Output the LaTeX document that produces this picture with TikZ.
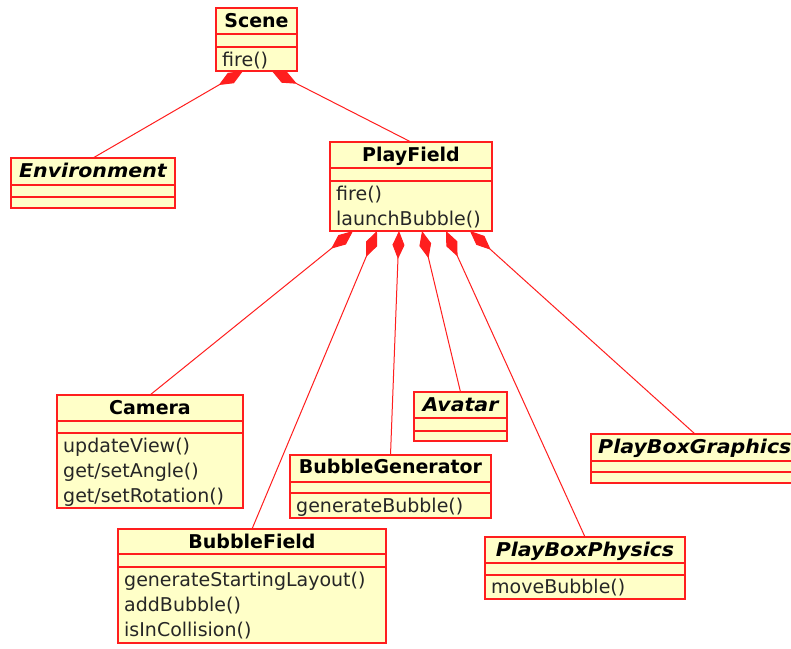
\documentclass[tikz,border=0pt]{standalone}
\usepackage{fontspec}
\usepackage{graphicx}
\setmainfont{DejaVu Sans}[BoldFont={DejaVu Sans Bold},ItalicFont={DejaVu Sans Oblique},BoldItalicFont={DejaVu Sans Bold Oblique}]
\usetikzlibrary{calc,arrows.meta}
\definecolor{umlred}{RGB}{255,30,30}
\definecolor{umlfill}{RGB}{255,255,200}
\newcommand{\umlfont}{\fontsize{19}{25}\selectfont}
\newcommand{\wideit}[1]{\scalebox{1.08}[1]{#1}}
\tikzset{
  cls/.style={draw=umlred, fill=umlfill, line width=1.4pt, inner sep=0pt, outer sep=0pt},
  divline/.style={draw=umlred, line width=1.4pt},
  ttl/.style={font=\umlfont\bfseries, anchor=base, inner sep=0pt},
  attl/.style={font=\umlfont\bfseries\itshape, anchor=base, inner sep=0pt},
  op/.style={font=\umlfont, anchor=base west, inner sep=0pt, text=black!85},
  comp/.style={draw=umlred, line width=1pt, {Diamond[length=28pt,width=12pt]}-},
}
% #1 name, #2 x, #3 y, #4 width, #5 height, #6 title row, #7 attribute row
\newcommand{\umlbox}[7]{%
  \node[cls, minimum width=#4pt, minimum height=#5pt, anchor=north west] (#1) at (#2,#3) {};
  \draw[divline] ($(#1.north west)+(0,#6)$) -- ($(#1.north east)+(0,#6)$);
  \draw[divline] ($(#1.north west)+(0,#6+#7)$) -- ($(#1.north east)+(0,#6+#7)$);
}
\begin{document}
\begin{tikzpicture}[x=1pt,y=-1pt]
\clip (0,0) rectangle (791,648);
\fill[white] (0,0) rectangle (791,648);

% boxes
\umlbox{Scene}{216}{8}{81}{63}{26}{13}
\umlbox{Environment}{11}{158}{164}{50}{27}{12}
\umlbox{PlayField}{330}{142}{162}{89}{26}{13}
\umlbox{Camera}{57}{395}{186}{113}{26}{12}
\umlbox{BubbleField}{118}{529}{268}{114}{25}{13}
\umlbox{Avatar}{414}{392}{93}{49}{26}{13}
\umlbox{BubbleGenerator}{290}{455}{201}{63}{27}{11}
\umlbox{PlayBoxPhysics}{485}{537}{200}{62}{26}{12}
\umlbox{PlayBoxGraphics}{591}{434}{208}{49}{27}{11}

% titles
\node[ttl]  (SceneT) at ($(Scene.north)+(0,19)$) {Scene};
\node[attl] (EnvironmentT) at ($(Environment.north)+(0,19)$) {\wideit{Environment}};
\node[ttl]  (PlayFieldT) at ($(PlayField.north)+(0,19)$) {PlayField};
\node[ttl]  (CameraT) at ($(Camera.north)+(0,19)$) {Camera};
\node[ttl]  (BubbleFieldT) at ($(BubbleField.north)+(0,19)$) {BubbleField};
\node[attl] (AvatarT) at ($(Avatar.north)+(0,19)$) {\wideit{Avatar}};
\node[ttl]  (BubbleGeneratorT) at ($(BubbleGenerator.north)+(0,18)$) {BubbleGenerator};
\node[attl] (PlayBoxPhysicsT) at ($(PlayBoxPhysics.north)+(0,19)$) {\wideit{PlayBoxPhysics}};
\node[attl, anchor=base west] (PlayBoxGraphicsT) at ($(PlayBoxGraphics.north west)+(7,19)$) {\wideit{PlayBoxGraphics}};

% operations
\node[op] (SceneO1) at ($(Scene.north west)+(6,58)$) {fire()};
\node[op] (PlayFieldO1) at ($(PlayField.north west)+(6,58)$) {fire()};
\node[op] (PlayFieldO2) at ($(PlayField.north west)+(6,83)$) {launchBubble()};
\node[op] (CameraO1) at ($(Camera.north west)+(6,57)$) {updateView()};
\node[op] (CameraO2) at ($(Camera.north west)+(6,82)$) {get/setAngle()};
\node[op] (CameraO3) at ($(Camera.north west)+(6,107)$) {get/setRotation()};
\node[op] (BubbleFieldO1) at ($(BubbleField.north west)+(6,57)$) {generateStartingLayout()};
\node[op] (BubbleFieldO2) at ($(BubbleField.north west)+(6,82)$) {addBubble()};
\node[op] (BubbleFieldO3) at ($(BubbleField.north west)+(6,107)$) {isInCollision()};
\node[op] (BubbleGeneratorO1) at ($(BubbleGenerator.north west)+(6,57)$) {generateBubble()};
\node[op] (PlayBoxPhysicsO1) at ($(PlayBoxPhysics.north west)+(6,56)$) {moveBubble()};

% composition anchor points
\coordinate (sc1) at ($(Scene.south west)!0.333!(Scene.south east)$);
\coordinate (sc2) at ($(Scene.south west)!0.69!(Scene.south east)$);
\coordinate (pf1) at ($(PlayField.south west)!0.142!(PlayField.south east)$);
\coordinate (pf2) at ($(PlayField.south west)!0.29!(PlayField.south east)$);
\coordinate (pf3) at ($(PlayField.south west)!0.426!(PlayField.south east)$);
\coordinate (pf4) at ($(PlayField.south west)!0.568!(PlayField.south east)$);
\coordinate (pf5) at ($(PlayField.south west)!0.716!(PlayField.south east)$);
\coordinate (pf6) at ($(PlayField.south west)!0.864!(PlayField.south east)$);

% connectors
\draw[comp] (sc1) -- (Environment.north);
\draw[comp] (sc2) -- (PlayField.north);
\draw[comp] (pf1) -- (Camera.north);
\draw[comp] (pf2) -- (BubbleField.north);
\draw[comp] (pf3) -- (BubbleGenerator.north);
\draw[comp] (pf4) -- (Avatar.north);
\draw[comp] (pf5) -- (PlayBoxPhysics.north);
\draw[comp] (pf6) -- (PlayBoxGraphics.north);
\end{tikzpicture}
\end{document}
